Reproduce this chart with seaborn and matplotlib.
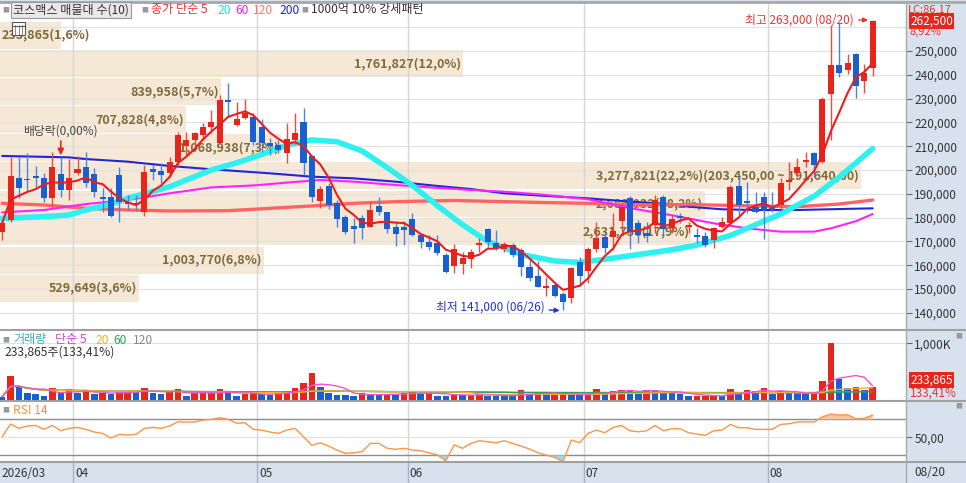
import matplotlib
matplotlib.use('Agg')
import matplotlib.pyplot as plt
import matplotlib.transforms as mtransforms
from matplotlib.patches import Rectangle
from matplotlib.lines import Line2D
import numpy as np
import pandas as pd
import seaborn as sns

# ---------------- data ----------------
opens = [174000, 179000, 196500, 196200, 197500, 196500, 188100, 198200, 191600, 198900,
         201400, 198200, 188500, 188800, 197900, 186700, 186000, 182500, 200300, 199700,
         198900, 203500, 210100, 212600, 214700, 217900, 211500, 229400, 218900, 221700,
         222100, 217900, 211200, 210500, 207300, 212600, 220000, 205900, 187100, 193300,
         186000, 180400, 176500, 179700, 176200, 184900, 182500, 175900, 175900, 179300,
         172700, 169900, 169500, 164300, 159700, 160500, 162500, 168500, 175200, 169200,
         166700, 168500, 166400, 159400, 155500, 150700, 151700, 147900, 146100, 161500,
         157700, 166700, 171700, 171700, 178700, 188100, 177900, 173400, 176900, 188500,
         175500, 180700, 176000, 172700, 172300, 170600, 176200, 177600, 193300, 187000,
         184300, 188800, 183800, 185300, 195200, 198600, 203500, 207300, 203500, 231800,
         244100, 241900, 248600, 237400, 243000]
highs = [179000, 205600, 205300, 207000, 201700, 198600, 207700, 205600, 204500, 205900,
         207700, 200700, 192300, 192300, 201400, 189500, 189500, 202100, 202100, 202800,
         205600, 216100, 216100, 216100, 219600, 225200, 231500, 236400, 228700, 229700,
         224100, 221300, 213300, 212600, 219900, 223800, 225900, 206300, 193300, 194400,
         187400, 181100, 179700, 181100, 187100, 188500, 182500, 178700, 178700, 181800,
         173100, 172700, 172700, 165000, 168900, 165700, 166700, 171300, 175500, 174800,
         169900, 169200, 167100, 162900, 161600, 154900, 152700, 148900, 159400, 163300,
         167500, 178300, 173400, 181800, 186700, 189100, 179000, 178300, 189500, 189500,
         181100, 181800, 178300, 175500, 174100, 176200, 180400, 193500, 197200, 195100,
         190900, 190900, 190900, 196500, 203500, 204900, 207700, 207700, 230500, 260900,
         261600, 248600, 249300, 244400, 263000]
lows = [170500, 178300, 188100, 191000, 192300, 186700, 184600, 188800, 187400, 197900,
        193000, 188800, 182500, 180400, 178300, 183200, 182900, 180700, 195800, 194400,
        197200, 201400, 206300, 209800, 212600, 215400, 211200, 222400, 218500, 221300,
        210500, 207700, 206300, 207000, 203100, 210900, 197900, 186700, 183900, 183600,
        176200, 173100, 169200, 170900, 175900, 181100, 173400, 168100, 168500, 172300,
        167100, 166400, 164300, 156600, 156600, 156300, 158700, 165700, 167800, 166400,
        165700, 163600, 155500, 153500, 150700, 147100, 146500, 141000, 144300, 151300,
        152400, 165700, 165000, 166400, 174100, 166700, 169200, 169900, 173700, 172700,
        173400, 177900, 173400, 169200, 167800, 167100, 175500, 177300, 181100, 181800,
        181800, 170900, 182500, 183200, 191600, 197200, 201400, 197200, 202800, 212600,
        239100, 240200, 230100, 232500, 239300]
closes = [177700, 197500, 192300, 195700, 196500, 188100, 201400, 191600, 196500, 200300,
          194700, 190900, 188000, 180700, 186700, 185700, 185300, 199300, 199300, 197900,
          203500, 214700, 212600, 215400, 218200, 220000, 229400, 228700, 221300, 223800,
          211900, 211200, 210200, 208400, 212900, 215700, 202800, 188500, 191900, 185300,
          179300, 174100, 175100, 175500, 183200, 182500, 175100, 173100, 174800, 172700,
          169900, 167800, 165000, 157300, 166700, 162900, 165700, 169500, 169900, 167100,
          168900, 164300, 159400, 154500, 151000, 151300, 147100, 144400, 158700, 155500,
          166700, 171300, 167100, 174500, 184300, 174100, 172700, 172300, 187400, 175100,
          179300, 179700, 177000, 172000, 168500, 175500, 178000, 193000, 185300, 186400,
          182500, 183200, 183200, 194400, 195800, 201400, 203900, 202100, 229700, 244100,
          240900, 244800, 235300, 240900, 262500]
volumes = [59, 416, 250, 119, 110, 77, 214, 119, 196, 119,
           154, 107, 119, 107, 154, 166, 137, 214, 119, 107,
           137, 196, 77, 115, 120, 125, 196, 119, 77, 107,
           119, 107, 95, 119, 166, 214, 303, 482, 232, 119,
           95, 90, 77, 119, 95, 90, 107, 95, 119, 166,
           107, 119, 77, 72, 95, 88, 95, 98, 77, 72,
           70, 68, 178, 89, 148, 89, 107, 125, 89, 85,
           98, 196, 125, 166, 184, 178, 107, 178, 170, 137,
           125, 98, 65, 71, 75, 78, 72, 196, 120, 178,
           155, 214, 107, 155, 125, 120, 98, 120, 332, 1000,
           375, 214, 238, 178, 233.865]
volumes = [v * 1000 for v in volumes]
rsi14 = [50.7, 64.8, 60.0, 62.6, 63.3, 58.9, 63.3, 57.3, 60.0, 61.1,
         58.9, 55.9, 54.4, 49.2, 53.3, 52.6, 53.3, 60.0, 61.1, 60.0,
         62.6, 67.3, 67.0, 67.0, 69.2, 70.0, 71.8, 70.0, 65.6, 66.3,
         58.9, 58.1, 55.9, 54.4, 58.1, 60.0, 50.7, 41.1, 44.0, 40.3,
         35.9, 32.2, 32.9, 34.0, 43.3, 43.3, 37.8, 36.7, 37.8, 35.9,
         35.1, 32.9, 30.3, 24.0, 41.6, 37.8, 43.3, 46.2, 45.1, 44.0,
         46.2, 43.3, 40.3, 37.0, 32.9, 30.3, 27.8, 22.9, 47.0, 44.0,
         54.4, 58.1, 55.1, 61.1, 63.3, 57.3, 56.2, 57.3, 63.3, 57.3,
         59.6, 59.6, 55.1, 53.7, 52.2, 57.3, 58.1, 64.4, 60.7, 60.7,
         58.9, 58.9, 58.9, 64.4, 65.1, 67.0, 67.3, 67.0, 72.9, 75.9,
         74.8, 75.1, 70.7, 71.1, 74.8]

# moving-average lines read at sample candles
ma20_x = [0, 5, 8, 10, 13, 15, 20, 25, 28, 31, 34, 37, 40, 43, 46, 49, 52, 55, 58, 62,
          66, 69, 72, 76, 80, 83, 87, 90, 93, 97, 100, 104]
ma20_y = [179700, 180400, 181100, 183200, 185700, 188100, 193000, 200000, 203000, 206500,
          210500, 212600, 211900, 208000, 201000, 193500, 185000, 177000, 170000, 164500,
          161800, 161200, 162500, 164500, 166500, 168500, 172500, 177000, 181500, 189000,
          197000, 209000]
ma60_x = [0, 5, 10, 15, 20, 25, 30, 35, 38, 42, 47, 52, 56, 60, 65, 70, 75, 80, 85, 89,
          93, 97, 99, 102, 104]
ma60_y = [182200, 183200, 185700, 187400, 190200, 192700, 193500, 195000, 195800, 195100,
          193700, 192500, 191600, 190900, 189500, 187700, 184000, 181000, 177600, 175500,
          174100, 174100, 175500, 178500, 181500]
ma120_x = [0, 5, 10, 15, 20, 27, 32, 37, 42, 47, 54, 60, 65, 70, 75, 82, 90, 95, 100, 104]
ma120_y = [186000, 185300, 183900, 183200, 182800, 182900, 183900, 184900, 186000, 186700,
           187200, 186700, 186300, 186000, 185300, 185500, 184900, 184600, 185700, 187400]
ma200_x = [0, 8, 10, 15, 20, 25, 32, 37, 42, 47, 52, 56, 60, 65, 70, 75, 80, 82, 86, 90,
           95, 100, 104]
ma200_y = [205900, 205300, 204600, 203500, 201700, 200300, 198600, 197200, 196500, 195100,
           193300, 192000, 190200, 189100, 188100, 186700, 185700, 184600, 183500, 183200,
           183200, 183600, 183900]

month_starts = [0, 9, 31, 49, 70, 92]
month_labels = ['2026/03', '04', '05', '06', '07', '08']

# volume-at-price bands, bottom to top
band_volumes = [529649, 1003770, 2631756, 2683032, 3277821, 1068938, 707828, 839958, 1761827, 233865]

price_ticks = list(range(140000, 260000, 10000))

# ---------------- style ----------------
sns.set_theme(style='white')
plt.rcParams['font.family'] = ['Noto Sans CJK KR', 'DejaVu Sans']
plt.rcParams['axes.unicode_minus'] = False

RED = '#e8251a'
BLUE = '#1a5fd0'
GRID = '#e1e1e1'
SIDE = '#d8e2ee'
W, H = 966, 483


def fx(x):
    return x / W


def fy(y):
    return 1 - y / H


fig = plt.figure(figsize=(9.66, 4.83), dpi=100, facecolor=SIDE)
ax_p = fig.add_axes([0, fy(329), fx(906), fy(4) - fy(329)])
ax_v = fig.add_axes([0, fy(400), fx(906), fy(331) - fy(400)])
ax_r = fig.add_axes([0, fy(462), fx(906), fy(402) - fy(462)])
ax_d = fig.add_axes([0, 0, fx(906), fy(462)])

n = len(closes)
x = np.arange(n)
xlim = (-0.26, 107.98)
for ax in (ax_p, ax_v, ax_r, ax_d):
    ax.set_xlim(*xlim)
    ax.set_xticks([])
    for s in ax.spines.values():
        s.set_visible(False)
ax_p.set_facecolor('white')
ax_v.set_facecolor('white')
ax_r.set_facecolor('white')
ax_d.set_facecolor(SIDE)
ax_d.set_yticks([])

# ---------------- price panel ----------------
ax_p.set_ylim(133220, 269720)
for p in range(140000, 270000, 10000):
    ax_p.axhline(p, color=GRID, lw=0.8, zorder=1)
for ms in month_starts[1:]:
    for ax in (ax_p, ax_v, ax_r):
        ax.axvline(ms - 0.5, color='#d6d6d6', lw=1, zorder=1)
    ax_d.axvline(ms - 0.5, color='#a9b3c1', lw=1)

# volume-at-price bands
edges = np.linspace(min(closes), max(closes), len(band_volumes) + 1)
step = edges[1] - edges[0]
vmax = max(band_volumes)
total = sum(band_volumes)
span = xlim[1] - xlim[0]
for i, bv in enumerate(band_volumes):
    frac = bv / vmax * 0.95
    ax_p.add_patch(Rectangle((xlim[0], edges[i] + 300), frac * span, step - 600,
                             facecolor='#f5e8d7', edgecolor='none', zorder=0.5))
    pct = bv / total * 100
    label = f"{bv:,}({pct:.1f}%)".replace('.', ',')
    if bv == vmax:
        label += f"({edges[i + 1]:,.2f} ~ {edges[i]:,.2f})".replace('.', ',')
    yc = (edges[i] + edges[i + 1]) / 2
    if frac * 906 < 115:
        ax_p.text(xlim[0] + 0.2, yc, label, ha='left', va='center', fontsize=9,
                  color='#806a38', fontweight='bold', zorder=2)
    else:
        ax_p.text(xlim[0] + frac * span - 0.2, yc, label, ha='right', va='center', fontsize=9,
                  color='#806a38', fontweight='bold', zorder=2)

# moving averages
ma5 = pd.Series(closes).rolling(5, min_periods=1).mean()
sns.lineplot(x=ma200_x, y=ma200_y, ax=ax_p, color='#2424d8', lw=1.5, zorder=3)
sns.lineplot(x=ma120_x, y=ma120_y, ax=ax_p, color='#ff6464', lw=2.4, zorder=3)
sns.lineplot(x=ma60_x, y=ma60_y, ax=ax_p, color='#ff22ff', lw=1.5, zorder=3)
sns.lineplot(x=ma20_x, y=ma20_y, ax=ax_p, color='#2ef0ee', lw=4, zorder=3)

# candles
o = np.array(opens)
c = np.array(closes)
up = c > o
colors = np.where(up, RED, BLUE)
wick_colors = np.where(up, '#f04a3a', '#4a82e0')
ax_p.vlines(x, lows, highs, colors=wick_colors, lw=1, zorder=4)
body_h = np.maximum(np.abs(c - o), 700)
body_mid = (o + c) / 2
ax_p.bar(x, body_h, bottom=body_mid - body_h / 2, width=0.72, color=colors, lw=0, zorder=5)
sns.lineplot(x=x, y=ma5.values, ax=ax_p, color='#ee1c1c', lw=1.5, zorder=6)

ax_p.set_xlabel('')
ax_p.set_ylabel('')
ax_p.yaxis.tick_right()
ax_p.set_yticks(price_ticks)
ax_p.set_yticklabels([f"{p:,}" for p in price_ticks])
ax_p.tick_params(axis='y', direction='out', length=4, width=0.8, pad=2, labelsize=8.5,
                 colors='#666666', labelcolor='#333333', right=True)

# annotations
ax_p.annotate('최고 263,000 (08/20)', xy=(103.45, max(highs)), xytext=(-14, 0),
              textcoords='offset pixels', ha='right', va='center', fontsize=8.5, color='#ee3333',
              arrowprops=dict(arrowstyle='-|>', color='#ee3333', lw=1, mutation_scale=7,
                              shrinkA=1, shrinkB=0), zorder=8)
ax_p.annotate('최저 141,000 (06/26)', xy=(66.6, min(lows)), xytext=(-15, 3),
              textcoords='offset pixels', ha='right', va='center', fontsize=8.5, color='#2233cc',
              arrowprops=dict(arrowstyle='-|>', color='#2233cc', lw=1, mutation_scale=7,
                              shrinkA=1, shrinkB=0), zorder=8)
ax_p.annotate('배당락(0,00%)', xy=(7, highs[7]), xytext=(0, 19), textcoords='offset pixels',
              ha='center', va='bottom', fontsize=8.5, color='#444444',
              arrowprops=dict(arrowstyle='-|>', color=RED, lw=1.2, mutation_scale=9,
                              shrinkA=0, shrinkB=1), zorder=8)

blend_p = mtransforms.blended_transform_factory(ax_p.transAxes, ax_p.transData)
ax_p.text(1.0045, closes[-1], f"{closes[-1]:,}", transform=blend_p, ha='left', va='center',
          fontsize=8.5, color='white', clip_on=False,
          bbox=dict(boxstyle='square,pad=0.12', fc=RED, ec='none'))
fig.text(fx(908), fy(10), 'LC:86,17', ha='left', va='center', fontsize=8, color='#e83030')
fig.text(fx(910), fy(32), '8,92%', ha='left', va='center', fontsize=8, color='#e83030')

# ---------------- volume panel ----------------
vol = np.array(volumes)
vcol = [BLUE] + [RED if vol[i] > vol[i - 1] else BLUE for i in range(1, n)]
ax_v.set_ylim(0, 1217000)
ax_v.axhline(1000000, color=GRID, lw=0.8, zorder=1)
ax_v.bar(x, vol, width=0.78, color=vcol, lw=0, zorder=3)
vs = pd.Series(vol)
sns.lineplot(x=x, y=vs.rolling(120, min_periods=1).mean().values, ax=ax_v, color='#9a9a9a', lw=1, zorder=4)
sns.lineplot(x=x, y=vs.rolling(60, min_periods=1).mean().values, ax=ax_v, color='#2e9e4a', lw=1, zorder=4)
sns.lineplot(x=x, y=vs.rolling(20, min_periods=1).mean().values, ax=ax_v, color='#f0b030', lw=1, zorder=4)
sns.lineplot(x=x, y=vs.rolling(5, min_periods=1).mean().values, ax=ax_v, color='#ee55cc', lw=1, zorder=4)
ax_v.set_xlabel('')
ax_v.set_ylabel('')
ax_v.yaxis.tick_right()
ax_v.set_yticks([1000000])
ax_v.set_yticklabels(['1,000K'])
ax_v.tick_params(axis='y', direction='out', length=4, width=0.8, pad=2, labelsize=8.5,
                 colors='#666666', labelcolor='#333333', right=True)
blend_v = mtransforms.blended_transform_factory(ax_v.transAxes, ax_v.transData)
ax_v.text(1.0045, vol[-1], f"{int(vol[-1]):,}", transform=blend_v, ha='left', va='bottom',
          fontsize=8.5, color='white', clip_on=False,
          bbox=dict(boxstyle='square,pad=0.12', fc=RED, ec='none'))
ax_v.text(1.0045, vol[-1], '133,41%', transform=blend_v, ha='left', va='top',
          fontsize=8.5, color='#e83030', clip_on=False)

# ---------------- RSI panel ----------------
rsi = np.array(rsi14)
ax_r.set_ylim(22.6, 89.3)
ax_r.axhline(50, color=GRID, lw=0.8, zorder=1)
ax_r.axhline(70, color='#8c8c8c', lw=1, zorder=2)
ax_r.axhline(30, color='#8c8c8c', lw=1, zorder=2)
ax_r.fill_between(x, rsi, 70, where=rsi > 70, interpolate=True, color='#f8c7a0', lw=0, zorder=2)
ax_r.fill_between(x, rsi, 30, where=rsi < 30, interpolate=True, color='#9ed3ec', lw=0, zorder=2)
sns.lineplot(x=x, y=rsi, ax=ax_r, color='#ff9448', lw=1, zorder=3)
ax_r.set_xlabel('')
ax_r.set_ylabel('')
ax_r.yaxis.tick_right()
ax_r.set_yticks([50])
ax_r.set_yticklabels(['50,00'])
ax_r.tick_params(axis='y', direction='out', length=4, width=0.8, pad=2, labelsize=8.5,
                 colors='#666666', labelcolor='#333333', right=True)

# ---------------- date strip ----------------
blend_d = mtransforms.blended_transform_factory(ax_d.transData, ax_d.transAxes)
for ms, lbl in zip(month_starts, month_labels):
    xpos = xlim[0] + 0.12 if ms == 0 else ms - 0.5 + 0.2
    ax_d.text(xpos, 0.45, lbl, transform=blend_d, ha='left', va='center', fontsize=8.5,
              color='#333333')
fig.text(fx(914), fy(472), '08/20', ha='left', va='center', fontsize=8.5, color='#333333')

# ---------------- frame lines & legends ----------------
for yy in (330, 401, 462):
    fig.add_artist(Line2D([0, 1], [fy(yy), fy(yy)], color='#a0a0a0', lw=1.5))
fig.add_artist(Line2D([0, 1], [fy(2), fy(2)], color='#a8a8a8', lw=2))
fig.add_artist(Line2D([fx(906), fx(906)], [0, fy(2)], color='#a8a8a8', lw=1))


def legend_row(y, items):
    for xx, txt, col in items:
        fig.text(fx(xx), fy(y), txt, ha='left', va='center', fontsize=8.7, color=col)


def square(xx, y):
    fig.text(fx(xx), fy(y), '■', ha='left', va='center', fontsize=5, color='#9a9a9a')


square(2, 10)
fig.text(fx(13), fy(10), '코스맥스 매물대 수(10)', ha='left', va='center', fontsize=8.7,
         color='#333333', bbox=dict(boxstyle='square,pad=0.15', fc='#e8e8e8', ec='#9a9a9a', lw=0.8))
square(141, 10)
legend_row(10, [(151, '종가 단순 5', '#ee3333'), (217, '20', '#22dddd'), (235, '60', '#ee22ee'),
                (253, '120', '#ff7777'), (279, '200', '#2222cc')])
square(301, 10)
legend_row(10, [(311, '1000억 10% 강세패턴', '#333333')])

# small table icon
fig.add_artist(Rectangle((fx(12), fy(35)), fx(13), 13 / H, fc='white', ec='#555555', lw=0.8))
for k in (1, 2, 3):
    fig.add_artist(Line2D([fx(12 + k * 13 / 4)] * 2, [fy(35), fy(25)], color='#555555', lw=0.5))
fig.add_artist(Line2D([fx(12), fx(25)], [fy(26), fy(26)], color='#555555', lw=0.8))

square(2, 340)
legend_row(340, [(13, '거래량', '#40a8b8'), (55, '단순 5', '#e040d0'), (95, '20', '#f0b030'),
                 (113, '60', '#30a050'), (133, '120', '#888888')])
legend_row(352, [(4, '233,865주(133,41%)', '#333333')])
square(2, 410)
legend_row(410, [(13, 'RSI 14', '#ff8c40')])
square(955, 336)
square(955, 406)

fig.savefig('out.png', dpi=100, facecolor=fig.get_facecolor())
